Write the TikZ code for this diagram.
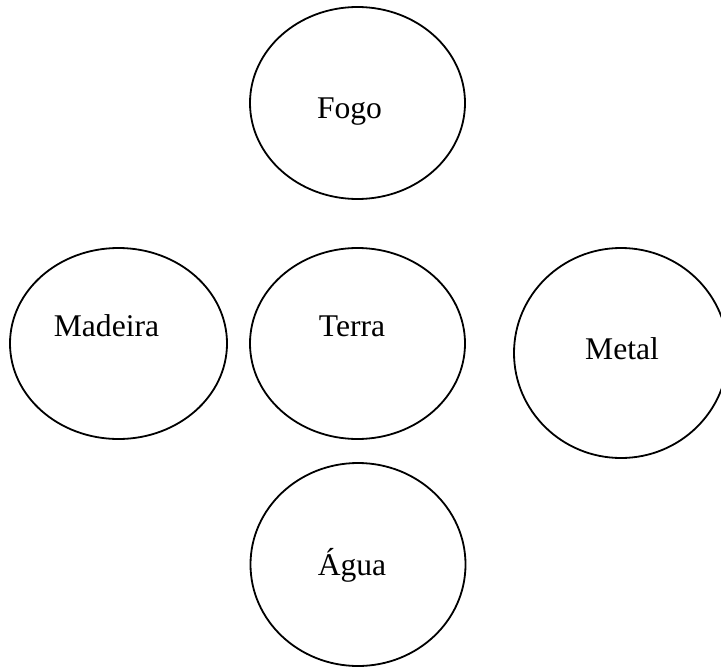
\documentclass[tikz,border=0pt]{standalone}
\usepackage{fontspec}
\setmainfont{Liberation Serif}

\tikzset{
  elem/.style={anchor=base,inner sep=0pt,font=\fontsize{15.8}{19}\selectfont}
}

\begin{document}
\begin{tikzpicture}[x=0.5pt,y=-0.5pt,line width=0.9pt]
\useasboundingbox (0,0) rectangle (721,668);
\clip (0,0) rectangle (721,668);
% the five elements
\draw (357.5,103) ellipse (107.5 and 96);
\draw (118.5,343.5) ellipse (108.5 and 95.5);
\draw (357.5,343.5) ellipse (107.5 and 95.5);
\draw (621,353) ellipse (107 and 105);
\draw (358,564.5) ellipse (107.5 and 101.5);
\node[elem] (fogo) at (349.5,119) {Fogo};
\node[elem] (madeira) at (106.5,336) {Madeira};
\node[elem] (terra) at (352,336) {Terra};
\node[elem] (metal) at (622,359) {Metal};
\node[elem] (agua) at (352,575) {Água};
\end{tikzpicture}
\end{document}
